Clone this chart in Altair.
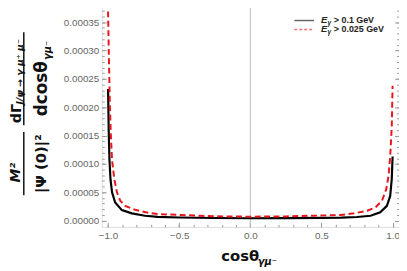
import altair as alt
import pandas as pd

# ---- data ----
cos_black = [-1.0, -0.995, -0.99, -0.983, -0.972, -0.95, -0.903, -0.833, -0.74, -0.65, -0.5, -0.25,
             0.0, 0.25, 0.5, 0.64, 0.75, 0.845, 0.913, 0.96, 0.983, 0.994, 1.0]
val_black = [2.32e-4, 1.54e-4, 1.07e-4, 7.3e-5, 5.0e-5, 3.2e-5, 1.86e-5, 1.29e-5, 8.7e-6, 6.6e-6, 5.6e-6, 4.6e-6,
             4.2e-6, 4.4e-6, 5.0e-6, 5.4e-6, 6.4e-6, 8.7e-6, 1.46e-5, 2.6e-5, 4.35e-5, 7.3e-5, 1.13e-4]

cos_red = [-1.0, -0.995, -0.988, -0.981, -0.972, -0.956, -0.937, -0.914, -0.879, -0.81, -0.72, -0.65, -0.49,
           -0.25, 0.0, 0.25, 0.49, 0.636, 0.729, 0.821, 0.879, 0.925, 0.955, 0.971, 0.983, 0.994, 1.0]
val_red = [3.69e-4, 2.99e-4, 2.12e-4, 1.54e-4, 1.07e-4, 7.3e-5, 4.95e-5, 3.5e-5, 2.6e-5, 1.92e-5, 1.4e-5, 1.17e-5,
           9.9e-6, 7.7e-6, 7.0e-6, 7.5e-6, 9.0e-6, 1.0e-5, 1.29e-5, 1.74e-5, 2.33e-5, 3.48e-5, 5.5e-5, 7.8e-5,
           1.13e-4, 1.65e-4, 2.38e-4]

x_major = [-1.0, -0.5, 0.0, 0.5, 1.0]
x_minor = [round(-1.0 + 0.1 * i, 2) for i in range(21)]
y_major = [0.0, 0.00005, 0.0001, 0.00015, 0.0002, 0.00025, 0.0003, 0.00035]
y_minor = [round(0.00001 * i, 6) for i in range(39)]

legend_labels = ["> 0.1 GeV", "> 0.025 GeV"]

X_DOMAIN = [-1.044, 1.045]
Y_DOMAIN = [-0.000011, 0.000386]
W, H = 301, 228
FONT = "Liberation Sans"
TFONT = "DejaVu Sans"
GREY = "#9a9a9a"

df_b = pd.DataFrame({"c": cos_black, "v": val_black})
df_r = pd.DataFrame({"c": cos_red, "v": val_red})

xs = alt.Scale(domain=X_DOMAIN, nice=False, zero=False)
ys = alt.Scale(domain=Y_DOMAIN, nice=False, zero=False)


def tick_axis(orient, values, size, offset):
    return alt.Axis(orient=orient, values=values, labels=False, domain=False, grid=False,
                    ticks=True, tickSize=size, tickColor=GREY, tickWidth=1, offset=offset, title=None)


label_x_axis = alt.Axis(orient="bottom", values=x_major, format=".1f", labelExpr="replace(datum.label, '-', '\u2212')",
                        ticks=False, tickSize=0, domain=False, grid=False, labelColor="#666666",
                        labelFont=FONT, labelFontSize=10, labelPadding=4, title=None)
label_y_axis = alt.Axis(orient="left", values=y_major, format=".5f", ticks=False, tickSize=0, domain=False,
                        grid=False, labelColor="#666666", labelFont=FONT, labelFontSize=10, labelPadding=3,
                        title=None)

black = alt.Chart(df_b).mark_line(color="black", strokeWidth=2.2).encode(
    x=alt.X("c:Q", scale=xs, axis=label_x_axis),
    y=alt.Y("v:Q", scale=ys, axis=label_y_axis),
)
red = alt.Chart(df_r).mark_line(color="#e8161c", strokeWidth=2, strokeDash=[6, 3.5]).encode(
    x=alt.X("c:Q", scale=xs, axis=tick_axis("top", x_major, 4.5, -H)),
    y=alt.Y("v:Q", scale=ys, axis=tick_axis("right", y_major, 4.5, -W)),
)
t2 = alt.Chart(df_r).mark_line(opacity=0).encode(
    x=alt.X("c:Q", scale=xs, axis=tick_axis("bottom", x_major, 4.5, -H)),
    y=alt.Y("v:Q", scale=ys, axis=tick_axis("left", y_major, 4.5, -W)),
)
t3 = alt.Chart(df_r).mark_line(opacity=0).encode(
    x=alt.X("c:Q", scale=xs, axis=tick_axis("top", x_minor, 2.5, -H)),
    y=alt.Y("v:Q", scale=ys, axis=tick_axis("right", y_minor, 2.5, -W)),
)
t4 = alt.Chart(df_r).mark_line(opacity=0).encode(
    x=alt.X("c:Q", scale=xs, axis=tick_axis("bottom", x_minor, 2.5, -H)),
    y=alt.Y("v:Q", scale=ys, axis=tick_axis("left", y_minor, 2.5, -W)),
)

zero_rule = alt.Chart(pd.DataFrame({"c": [0.0]})).mark_rule(color="#bbbbbb", strokeWidth=1).encode(
    x=alt.X("c:Q", scale=xs, axis=None)
)

# ---- legend (inside, top right) ----
leg_solid = alt.Chart().mark_rule(color="#666666", strokeWidth=1.5).encode(
    x=alt.value(195), x2=alt.value(215), y=alt.value(19))
leg_dash = alt.Chart().mark_rule(color="#ff6e6e", strokeWidth=1.5, strokeDash=[3, 2]).encode(
    x=alt.value(195), x2=alt.value(215), y=alt.value(28))


def txt(text, x, y, size, angle=0, align="left", baseline="middle", style="normal", weight="bold",
        color="#222222", font=FONT):
    return alt.Chart().mark_text(text=text, fontSize=size, font=font, fontWeight=weight, fontStyle=style,
                                 angle=angle, align=align, baseline=baseline, color=color).encode(
        x=alt.value(x), y=alt.value(y))


legend_txt = [
    txt("E", 222, 19, 9.5, style="italic"), txt("\u03b3", 228.5, 22, 6.5, style="italic"),
    txt(legend_labels[0], 235, 19, 9),
    txt("E", 222, 28, 9.5, style="italic"), txt("\u03b3", 228.5, 31, 6.5, style="italic"),
    txt(legend_labels[1], 235, 28, 9),
]

# ---- x title ----
xtitle = [
    txt("cos\u03b8", 121, 263, 15, baseline="alphabetic", color="#111111", font=TFONT),
    txt("\u03b3\u03bc\u207b", 158, 267, 10, baseline="alphabetic", style="italic", color="#111111", font=TFONT),
]

# ---- y title (rotated fractions) ----
ytitle = [
    txt("M\u00b2", -87, 173, 14, angle=270, align="center", style="italic", color="#111111", font=TFONT),
    txt("|\u03a8 (0)|\u00b2", -62, 164, 15, angle=270, align="center", color="#111111", font=TFONT),
    txt("d\u0393", -82, 123, 14.5, angle=270, baseline="alphabetic", color="#111111", font=TFONT),
    txt("J/\u03c8 \u2192 \u03b3 \u03bc\u207a \u03bc\u207b", -80, 104, 9.5, angle=270, baseline="alphabetic",
        style="italic", color="#111111", font=TFONT),
    txt("dcos\u03b8", -55, 116, 17, angle=270, baseline="alphabetic", color="#111111", font=TFONT),
    txt("\u03b3\u03bc\u207b", -51, 59, 10, angle=270, baseline="alphabetic", style="italic", color="#111111",
        font=TFONT),
]
bars = [
    alt.Chart().mark_rule(color="#111111", strokeWidth=1.5).encode(
        x=alt.value(-79), y=alt.value(132), y2=alt.value(196)),
    alt.Chart().mark_rule(color="#111111", strokeWidth=1.5).encode(
        x=alt.value(-79), y=alt.value(31), y2=alt.value(125)),
]

chart = alt.layer(
    zero_rule, black, red, t2, t3, t4, leg_solid, leg_dash, *legend_txt, *xtitle, *ytitle, *bars
).resolve_axis(x="independent", y="independent").properties(
    width=W, height=H,
    autosize=alt.AutoSizeParams(type="none"),
    padding={"left": 95, "top": -8, "right": 0, "bottom": 43},
).configure_view(stroke=GREY, strokeWidth=1).configure(background="white")

chart.save("out.html", embed_options={"renderer": "svg", "actions": False})
